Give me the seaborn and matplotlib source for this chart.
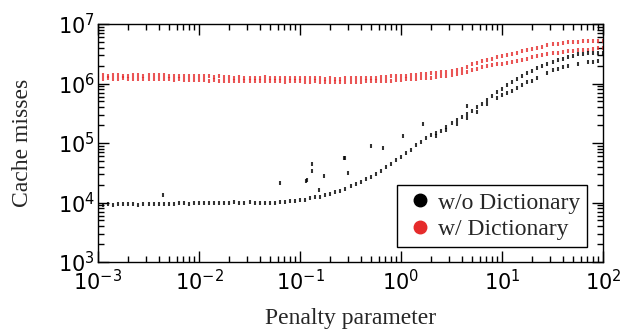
import numpy as np
import pandas as pd
import matplotlib
matplotlib.use("Agg")
import matplotlib.pyplot as plt
from matplotlib.lines import Line2D
import seaborn as sns

# SECTION - DATA (log10 values)
# penalty parameter grid, log10, step 0.05 from -3 to 2
log_penalty = np.round(np.arange(-3.0, 2.0001, 0.05), 2)

# w/o Dictionary, main band
log_miss_nodict = [
    3.97, 3.96, 3.97, 3.96, 3.97, 3.97, 3.98, 3.97, 3.96, 3.97, 3.97,
    3.98, 3.98, 3.97, 3.98, 3.98, 3.99, 3.99, 3.98, 3.99, 4.00,
    4.00, 4.00, 3.99, 4.00, 4.00, 4.00, 4.01, 4.00, 4.00, 4.01,
    4.00, 3.99, 3.99, 4.00, 4.00, 4.01, 4.01, 4.02, 4.03, 4.04,
    4.05, 4.07, 4.09, 4.10, 4.12, 4.14, 4.17, 4.20, 4.23, 4.27,
    4.31, 4.35, 4.39, 4.43, 4.48, 4.53, 4.59, 4.65, 4.71, 4.77,
    4.83, 4.89, 4.96, 5.02, 5.08, 5.13, 5.17, 5.21, 5.27, 5.33,
    5.39, 5.44, 5.49, 5.54, 5.60, 5.66, 5.72, 5.79, 5.85, 5.91,
    5.97, 6.02, 6.07, 6.12, 6.17, 6.21, 6.26, 6.29, 6.33, 6.36,
    6.39, 6.42, 6.45, 6.47, 6.49, 6.50, 6.51, 6.52, 6.52, 6.52,
]

# w/o Dictionary, lower branch at large penalties
log_penalty_nodict_low = [0.35, 0.45, 0.55, 0.65, 0.75, 0.85, 0.95, 1.00, 1.05, 1.10,
                          1.15, 1.20, 1.25, 1.30, 1.35, 1.45, 1.50, 1.55, 1.60, 1.65,
                          1.75, 1.85, 1.90, 1.95]
log_miss_nodict_low = [5.12, 5.22, 5.32, 5.42, 5.52, 5.65, 5.76, 5.80, 5.84, 5.88,
                       5.93, 5.97, 6.02, 6.05, 6.09, 6.18, 6.22, 6.25, 6.27, 6.29,
                       6.33, 6.36, 6.36, 6.37]

# w/o Dictionary, scattered outliers
log_penalty_nodict_out = [-2.36, -1.20, -0.94, -0.93, -0.88, -0.88, -0.81, -0.76, -0.56,
                          -0.55, -0.52, -0.30, -0.18, 0.02, 0.22, 0.65]
log_miss_nodict_out = [4.13, 4.33, 4.36, 4.38, 4.65, 4.53, 4.21, 4.44, 4.75,
                       4.75, 4.49, 4.95, 4.92, 5.12, 5.32, 5.63]

# w/ Dictionary, upper band
log_miss_dict_up = [
    6.14, 6.14, 6.13, 6.14, 6.14, 6.13, 6.13, 6.14, 6.14, 6.13, 6.14,
    6.14, 6.15, 6.14, 6.13, 6.13, 6.13, 6.12, 6.13, 6.12, 6.12,
    6.12, 6.12, 6.11, 6.12, 6.11, 6.11, 6.10, 6.11, 6.10, 6.10,
    6.10, 6.10, 6.11, 6.10, 6.10, 6.09, 6.10, 6.09, 6.09, 6.09,
    6.09, 6.09, 6.09, 6.09, 6.08, 6.09, 6.08, 6.08, 6.09, 6.09,
    6.09, 6.09, 6.10, 6.10, 6.10, 6.11, 6.11, 6.12, 6.12, 6.13,
    6.13, 6.14, 6.15, 6.16, 6.16, 6.17, 6.18, 6.19, 6.20, 6.21,
    6.23, 6.25, 6.28, 6.32, 6.35, 6.37, 6.39, 6.42, 6.44, 6.46,
    6.48, 6.50, 6.52, 6.54, 6.56, 6.58, 6.60, 6.62, 6.64, 6.66,
    6.67, 6.68, 6.69, 6.70, 6.70, 6.71, 6.71, 6.72, 6.72, 6.72,
]

# w/ Dictionary, lower band
log_miss_dict_low = [
    6.09, 6.08, 6.09, 6.08, 6.08, 6.09, 6.08, 6.08, 6.07, 6.08, 6.08,
    6.07, 6.08, 6.07, 6.07, 6.06, 6.07, 6.06, 6.06, 6.06, 6.06,
    6.06, 6.05, 6.06, 6.05, 6.05, 6.05, 6.05, 6.04, 6.05, 6.04,
    6.04, 6.04, 6.05, 6.04, 6.04, 6.04, 6.03, 6.04, 6.04, 6.04,
    6.03, 6.03, 6.04, 6.03, 6.03, 6.03, 6.02, 6.03, 6.03, 6.03,
    6.03, 6.03, 6.04, 6.04, 6.04, 6.05, 6.05, 6.05, 6.06, 6.06,
    6.07, 6.07, 6.08, 6.09, 6.10, 6.10, 6.11, 6.12, 6.13, 6.14,
    6.16, 6.18, 6.20, 6.23, 6.25, 6.27, 6.29, 6.31, 6.32, 6.33,
    6.34, 6.36, 6.38, 6.40, 6.42, 6.44, 6.46, 6.48, 6.50, 6.51,
    6.52, 6.53, 6.54, 6.55, 6.56, 6.57, 6.57, 6.58, 6.59, 6.60,
]

labels = ["w/o Dictionary", "w/ Dictionary"]
colors = ["black", "#e52b2b"]
# !SECTION

# SECTION - DATAFRAME
nodict = pd.DataFrame({
    "penalty": 10.0 ** np.concatenate([log_penalty, log_penalty_nodict_low, log_penalty_nodict_out]),
    "misses": 10.0 ** np.array(log_miss_nodict + log_miss_nodict_low + log_miss_nodict_out),
})
dict_ = pd.DataFrame({
    "penalty": 10.0 ** np.concatenate([log_penalty, log_penalty]),
    "misses": 10.0 ** np.array(log_miss_dict_up + log_miss_dict_low),
})
# !SECTION

# SECTION - PLOT
sns.set_style("ticks")
plt.rcParams["font.family"] = ["DejaVu Sans"]
plt.rcParams["mathtext.fontset"] = "dejavusans"

fig, ax = plt.subplots(figsize=(6.23, 3.29), dpi=100)
fig.subplots_adjust(left=98 / 623, right=603 / 623, top=1 - 24 / 329, bottom=1 - 262 / 329)

sns.scatterplot(data=dict_, x="penalty", y="misses", ax=ax, marker="|",
                color=colors[1], s=5, linewidth=1.5, alpha=0.8, legend=False)
sns.scatterplot(data=nodict, x="penalty", y="misses", ax=ax, marker="|",
                color=colors[0], s=5, linewidth=1.5, alpha=0.8, legend=False)

ax.set_xscale("log")
ax.set_yscale("log")
ax.set_xlim(1e-3, 1e2)
ax.set_ylim(1e3, 1e7)

serif = ["Liberation Serif", "DejaVu Serif"]
ax.set_xlabel("Penalty parameter", family=serif, fontsize=17, labelpad=10)
ax.set_ylabel("Cache misses", family=serif, fontsize=17, labelpad=18)

ax.tick_params(which="both", direction="in", top=True, right=True, width=1, colors="black")
ax.tick_params(which="major", length=8, labelsize=15)
ax.tick_params(which="minor", length=4)
ax.tick_params(axis="x", which="major", pad=5)
ax.tick_params(axis="y", which="major", pad=2)
for spine in ax.spines.values():
    spine.set_linewidth(1)
    spine.set_color("black")

handles = [Line2D([], [], marker="o", linestyle="", color=c, markersize=9) for c in colors]
leg = ax.legend(handles, labels, loc="lower right", bbox_to_anchor=(0.968, 0.063),
                borderaxespad=0, prop={"family": serif, "size": 17}, frameon=True,
                fancybox=False, handletextpad=0.1, handlelength=1.3,
                borderpad=0.3, labelspacing=0.2)
leg.get_frame().set_edgecolor("black")
leg.get_frame().set_linewidth(1)
leg.get_frame().set_alpha(1)

plt.savefig("out.png", dpi=100)
# !SECTION
